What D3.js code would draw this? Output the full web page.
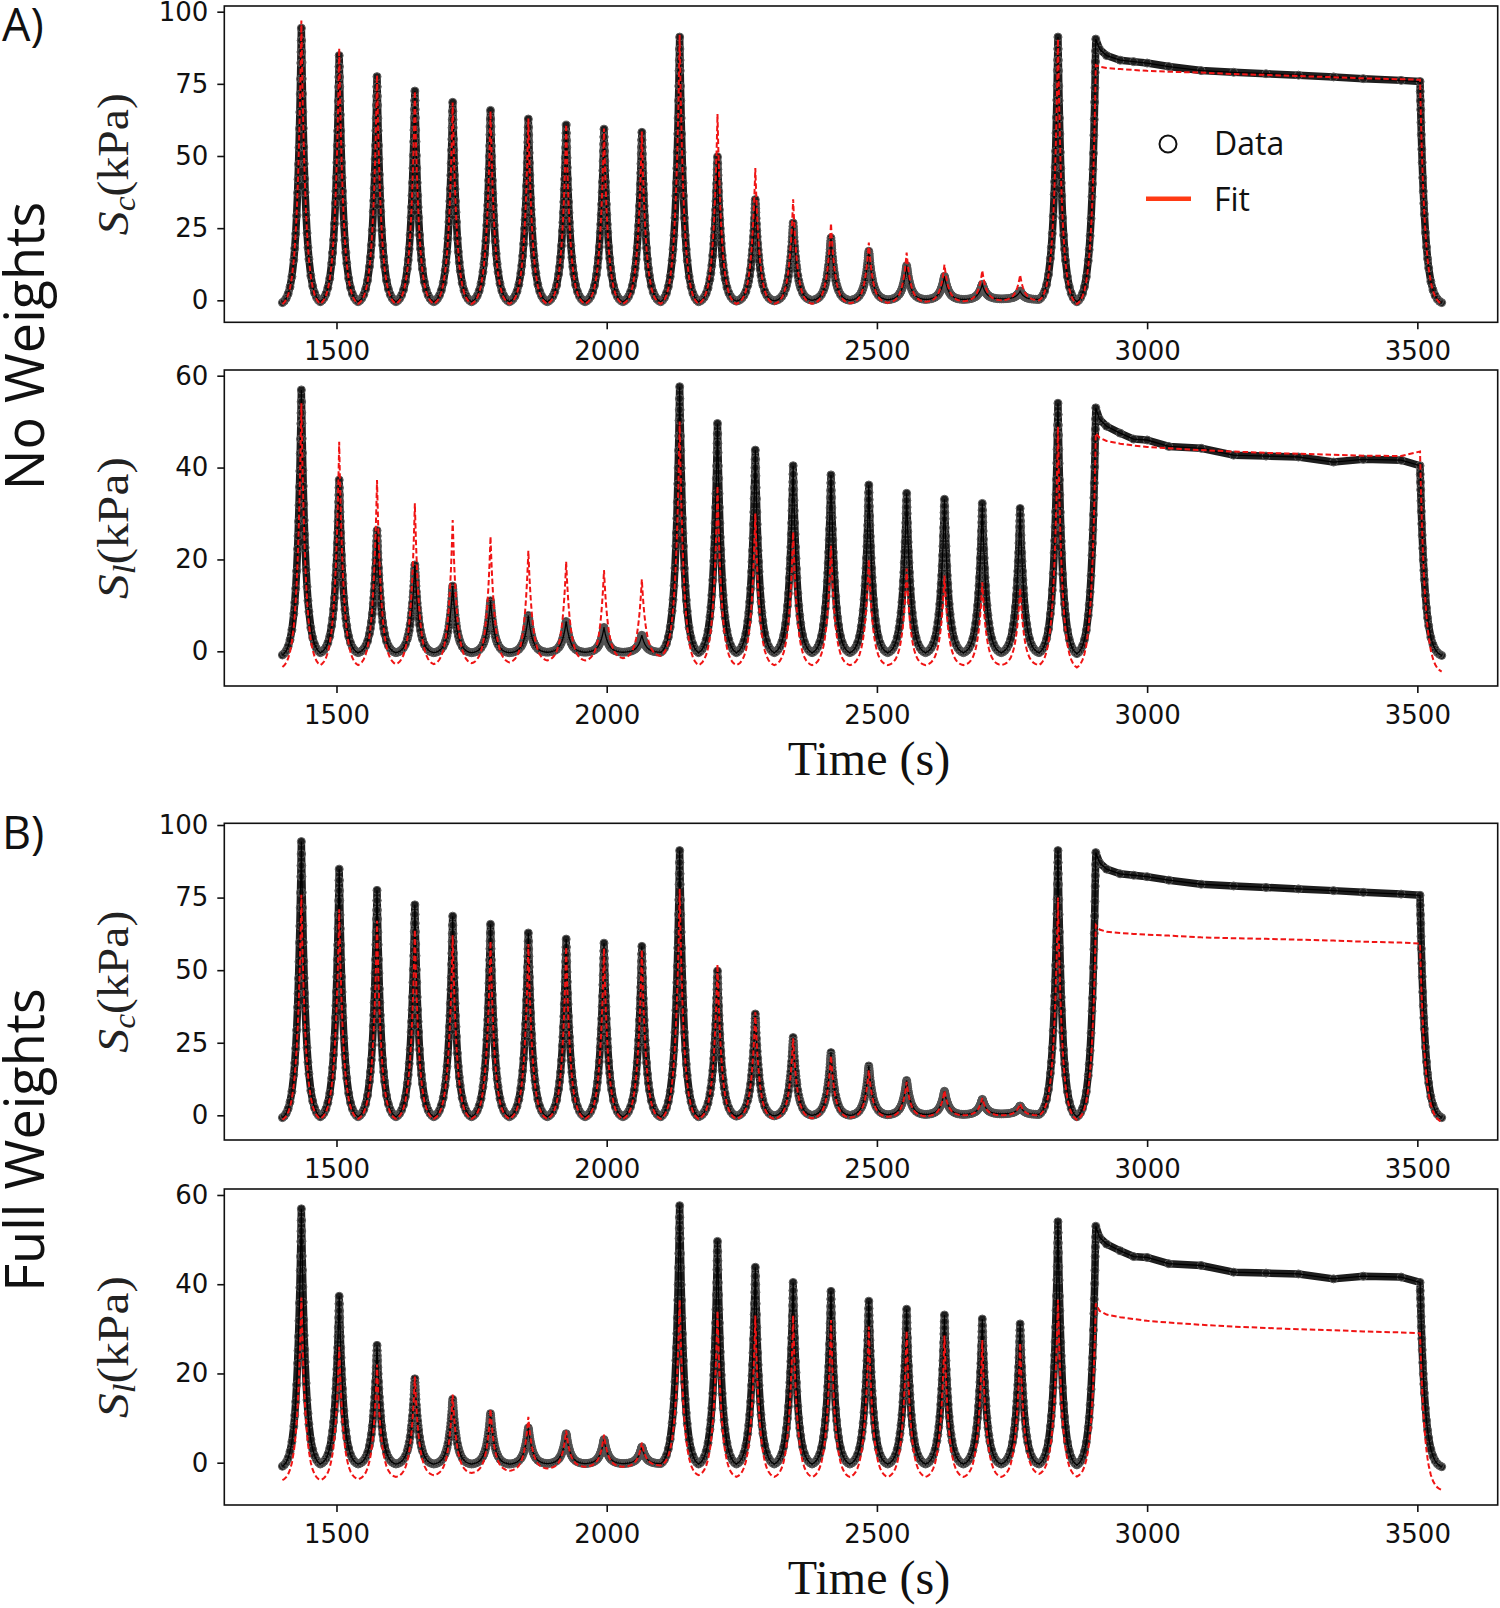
<!DOCTYPE html>
<html><head><meta charset="utf-8">
<script src="https://cdn.jsdelivr.net/npm/d3@7"></script>
<style>body{margin:0;background:#fff}svg{display:block}</style>
</head><body>
<svg id="c" width="1500" height="1608"></svg>
<script>
// ---------------- data ----------------
const xTicks = [1500, 2000, 2500, 3000, 3500];
const scTicks = [0, 25, 50, 75, 100];
const slTicks = [0, 20, 40, 60];

const peakTimes = [1435,1505,1575,1645,1715,1785,1855,1925,1995,2065,2135,2205,2275,2345,2415,2485,2555,2625,2695,2765,2835];
const valleyTimes = [1400,1470,1540,1610,1680,1750,1820,1890,1960,2030,2100,2170,2240,2310,2380,2450,2520,2590,2660,2730,2800,2870];
const holdTimes = [2905,2912,2925,2950,2975,3000,3040,3100,3160,3220,3280,3345,3400,3470,3505];
const endTime = 3545;

// normalised shape of one loading half-cycle (distance from peak as fraction of half-period -> relative level)
const shapeFrac  = [0,0.01,0.02,0.03,0.045,0.06,0.08,0.1,0.125,0.15,0.175,0.2,0.25,0.3,0.35,0.4,0.5,0.6,0.7,0.8,0.9,1];
const shapeLevel = [1,0.955,0.913,0.873,0.815,0.76,0.694,0.634,0.565,0.504,0.449,0.40,0.317,0.251,0.198,0.156,0.095,0.057,0.032,0.016,0.006,0];

// S_c data
const scDataPeaks   = [94.3,84.8,77.5,72.5,68.6,65.8,62.8,60.7,59.3,58.2,91.2,49.7,34.9,26.8,21.6,17.0,12.0,8.3,5.5,3.2,91.2];
const scDataValleys = [-0.8,-0.5,-0.5,-0.5,-0.5,-0.5,-0.5,-0.5,-0.5,-0.5,-0.5,-0.5,-0.3,-0.2,0,0,0.2,0.3,0.3,0.5,0.3,-0.5];
const scDataHold    = [90.5,87.0,84.8,83.2,82.7,82.2,81.0,79.6,79.0,78.5,78.0,77.4,76.8,76.2,75.8];
const scDataEnd = -0.8;

// S_l data
const slDataPeaks   = [56.9,37.3,26.3,18.8,14.2,11.0,7.8,6.5,5.2,3.5,57.6,49.6,43.8,40.4,38.4,36.2,34.4,33.1,32.2,31.1,54.0];
const slDataValleys = [-0.8,-0.3,-0.3,-0.3,-0.3,-0.3,-0.3,-0.2,-0.2,-0.2,-0.2,-0.3,-0.3,-0.3,-0.3,-0.3,-0.3,-0.3,-0.3,-0.3,-0.3,-0.5];
const slDataHold    = [53.0,50.5,49.0,47.5,46.2,46.0,44.6,44.2,42.7,42.5,42.3,41.2,41.8,41.6,40.4];
const slDataEnd = -0.9;

// A) No Weights fits
const scFitAPeaks   = [96.9,87.3,78.0,72.5,68.5,65.5,63.0,61.0,59.5,58.5,92.0,64.5,45.8,35.0,26.7,20.0,16.5,12.4,10.3,8.8,90.5];
const scFitAValleys = [-1.3,-1.2,-1.2,-1.2,-1.2,-1.2,-1.2,-1.2,-1.2,-1.2,-1.2,-1.2,-1.2,-1.2,-1.2,-1.0,-0.8,-0.5,-0.3,0,0,-1.3];
const scFitAHold    = [81.5,80.9,80.5,80.1,79.8,79.5,79.2,78.9,78.4,78.1,77.7,77.3,76.9,76.6,76.4];
const scFitAEnd = -1.2;

const slFitAPeaks   = [54.0,45.6,37.3,32.2,28.6,25.0,21.9,19.5,17.7,15.7,50.0,36.0,30.0,26.0,23.0,20.0,18.0,16.5,15.0,13.8,48.9];
const slFitAValleys = [-3.4,-3.0,-3.0,-2.8,-2.8,-2.6,-2.4,-2.0,-2.0,-1.5,-1.0,-3.0,-3.0,-3.0,-3.0,-3.0,-3.0,-3.0,-3.0,-3.0,-3.0,-3.5];
const slFitAHold    = [47.5,46.5,45.8,45.2,44.8,44.5,44.2,43.8,43.5,43.2,43.0,42.8,42.6,42.5,43.5];
const slFitAEnd = -4.4;

// B) Full Weights fits
const scFitBPeaks   = [76.0,71.0,67.0,64.0,62.0,60.0,59.0,58.0,57.5,57.0,78.0,52.0,35.5,26.5,20.5,15.5,11.5,8.5,6.0,4.0,75.0];
const scFitBValleys = [-1.5,-1.2,-1.2,-1.2,-1.2,-1.2,-1.2,-1.2,-1.2,-1.2,-1.2,-1.2,-1.2,-1.2,-1.0,-0.8,-0.5,-0.3,0,0,0,-1.5];
const scFitBHold    = [65.5,64.0,63.2,62.8,62.5,62.2,61.9,61.3,61.0,60.8,60.5,60.2,59.8,59.5,59.2];
const scFitBEnd = -2.2;

const slFitBPeaks   = [37.0,26.0,22.0,19.3,15.3,12.0,10.3,7.2,6.3,4.5,36.5,34.0,33.0,33.0,32.0,30.5,29.5,28.5,27.5,26.8,36.5];
const slFitBValleys = [-3.9,-3.9,-3.7,-3.2,-2.8,-2.3,-1.8,-1.3,-0.9,-0.9,-0.6,-2.8,-3.2,-3.2,-3.2,-3.2,-3.2,-3.2,-3.2,-3.2,-2.5,-3.1];
const slFitBHold    = [35.7,34.0,33.2,32.6,32.2,31.8,31.4,30.9,30.5,30.2,29.9,29.7,29.4,29.2,29.0];
const slFitBEnd = -6.1;

// ---------------- build series from the read values ----------------
function buildSeries(peaks, valleys, hold, endVal) {
  const pts = [[valleyTimes[0], valleys[0]]];
  const m = shapeFrac.length;
  const rise = (t0, v0, t1, v1) => { for (let j = m - 2; j >= 0; j--) pts.push([t1 - shapeFrac[j] * (t1 - t0), v0 + (v1 - v0) * shapeLevel[j]]); };
  const fall = (t0, v0, t1, v1) => { for (let j = 1; j < m; j++) pts.push([t0 + shapeFrac[j] * (t1 - t0), v1 + (v0 - v1) * shapeLevel[j]]); };
  const n = peakTimes.length;
  for (let i = 0; i < n; i++) {
    rise(valleyTimes[i], valleys[i], peakTimes[i], peaks[i]);
    fall(peakTimes[i], peaks[i], valleyTimes[i + 1], valleys[i + 1]);
  }
  rise(valleyTimes[n], valleys[n], holdTimes[0], hold[0]);
  for (let k = 1; k < holdTimes.length; k++) pts.push([holdTimes[k], hold[k]]);
  fall(holdTimes[holdTimes.length - 1], hold[hold.length - 1], endTime, endVal);
  return pts;
}

const scData = buildSeries(scDataPeaks, scDataValleys, scDataHold, scDataEnd);
const slData = buildSeries(slDataPeaks, slDataValleys, slDataHold, slDataEnd);

const panels = [
  { top: 6,     bottom: 322.3, yDomain: [-7.62, 101.97], ticks: scTicks, data: scData, fit: buildSeries(scFitAPeaks, scFitAValleys, scFitAHold, scFitAEnd), sub: "c", legend: true },
  { top: 370,   bottom: 686,   yDomain: [-7.55, 61.24],  ticks: slTicks, data: slData, fit: buildSeries(slFitAPeaks, slFitAValleys, slFitAHold, slFitAEnd), sub: "l", xlabel: true },
  { top: 823.3, bottom: 1140,  yDomain: [-8.5, 100.59],  ticks: scTicks, data: scData, fit: buildSeries(scFitBPeaks, scFitBValleys, scFitBHold, scFitBEnd), sub: "c" },
  { top: 1189,  bottom: 1505,  yDomain: [-9.48, 61.34],  ticks: slTicks, data: slData, fit: buildSeries(slFitBPeaks, slFitBValleys, slFitBHold, slFitBEnd), sub: "l", xlabel: true }
];

// ---------------- draw ----------------
const svg = d3.select("#c");
const left = 224.3, right = 1497.7;
const x = d3.scaleLinear().domain([1292.4, 3648.7]).range([left, right]);
const tickFont = "'DejaVu Sans', sans-serif";

panels.forEach((p, idx) => {
  const y = d3.scaleLinear().domain(p.yDomain).range([p.bottom, p.top]);
  const g = svg.append("g");
  const clipId = "clip" + idx;
  svg.append("clipPath").attr("id", clipId).append("rect")
    .attr("x", left).attr("y", p.top).attr("width", right - left).attr("height", p.bottom - p.top);

  const plot = g.append("g").attr("clip-path", `url(#${clipId})`);
  const line = d3.line().x(d => x(d[0])).y(d => y(d[1]));

  // data: dense open circles rendered as a dark band + markers + connecting line
  plot.append("path").datum(p.data).attr("d", line)
    .attr("fill", "none").attr("stroke", "#1e1e1e").attr("stroke-width", 7.5)
    .attr("stroke-linejoin", "round").attr("stroke-linecap", "round");
  plot.append("g").selectAll("circle").data(p.data).join("circle")
    .attr("cx", d => x(d[0])).attr("cy", d => y(d[1])).attr("r", 4)
    .attr("fill", "none").attr("stroke", "#555").attr("stroke-width", 1);
  plot.append("path").datum(p.data).attr("d", line)
    .attr("fill", "none").attr("stroke", "#000").attr("stroke-width", 1.3);

  // fit
  plot.append("path").datum(p.fit).attr("d", line)
    .attr("fill", "none").attr("stroke", "#f01414").attr("stroke-width", 2)
    .attr("stroke-dasharray", "5.5,2.8");

  // frame
  g.append("rect").attr("x", left).attr("y", p.top).attr("width", right - left).attr("height", p.bottom - p.top)
    .attr("fill", "none").attr("stroke", "#111").attr("stroke-width", 1.6);

  // axes
  const ya = g.append("g").attr("transform", `translate(${left},0)`)
    .call(d3.axisLeft(y).tickValues(p.ticks).tickSize(7).tickPadding(9).tickFormat(d3.format("d")));
  const xa = g.append("g").attr("transform", `translate(0,${p.bottom})`)
    .call(d3.axisBottom(x).tickValues(xTicks).tickSize(7).tickPadding(12.5).tickFormat(d3.format("d")));
  [ya, xa].forEach(a => {
    a.select(".domain").remove();
    a.selectAll("line").attr("stroke", "#111").attr("stroke-width", 1.6);
    a.selectAll("text").attr("font-family", tickFont).attr("font-size", 26).attr("fill", "#111");
  });

  // y label  S_c(kPa) / S_l(kPa)
  const cy = (p.top + p.bottom) / 2;
  const yl = g.append("text").attr("transform", `translate(128,${cy}) rotate(-90)`)
    .attr("text-anchor", "middle").attr("font-family", "'Liberation Serif', serif").attr("font-size", 44)
    .attr("fill", "#222").attr("textLength", 142).attr("lengthAdjust", "spacingAndGlyphs");
  yl.append("tspan").attr("font-style", "italic").text("S");
  yl.append("tspan").attr("font-style", "italic").attr("font-size", 31).attr("dy", 7).text(p.sub);
  yl.append("tspan").attr("dy", -7).text("(kPa)");

  if (p.xlabel) {
    g.append("text").attr("x", 869).attr("y", p.bottom + 89).attr("text-anchor", "middle")
      .attr("font-family", "'Liberation Serif', serif").attr("font-size", 48).attr("fill", "#111").text("Time (s)");
  }

  if (p.legend) {
    const lg = g.append("g");
    lg.append("circle").attr("cx", 1168).attr("cy", 144).attr("r", 8.5)
      .attr("fill", "none").attr("stroke", "#111").attr("stroke-width", 2);
    lg.append("text").attr("x", 1214).attr("y", 155).attr("font-family", "'Open Sans', sans-serif")
      .attr("font-size", 32).attr("fill", "#111").text("Data");
    lg.append("line").attr("x1", 1146).attr("x2", 1191).attr("y1", 198.7).attr("y2", 198.7)
      .attr("stroke", "#ff3a14").attr("stroke-width", 4.5);
    lg.append("text").attr("x", 1214).attr("y", 210.5).attr("font-family", "'Open Sans', sans-serif")
      .attr("font-size", 32).attr("fill", "#111").text("Fit");
  }
});

// section labels
const sans = "'Open Sans', sans-serif";
svg.append("text").attr("x", 2).attr("y", 41).attr("font-family", sans).attr("font-size", 45).attr("fill", "#111").text("A)");
svg.append("text").attr("x", 2).attr("y", 849).attr("font-family", sans).attr("font-size", 45).attr("fill", "#111").text("B)");
svg.append("text").attr("transform", "translate(44,346) rotate(-90)").attr("text-anchor", "middle")
  .attr("font-family", sans).attr("font-size", 54).attr("fill", "#111").text("No Weights");
svg.append("text").attr("transform", "translate(44,1140) rotate(-90)").attr("text-anchor", "middle")
  .attr("font-family", sans).attr("font-size", 54).attr("fill", "#111").text("Full Weights");
</script>
</body></html>
